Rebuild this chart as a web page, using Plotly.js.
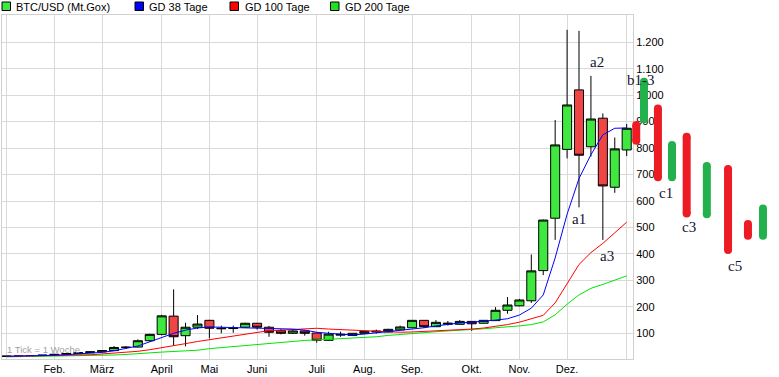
<!DOCTYPE html>
<html>
<head>
<meta charset="utf-8">
<script src="https://cdn.plot.ly/plotly-3.0.1.min.js"></script>
<style>
html,body{margin:0;padding:0;background:#fff;}
#chart{width:779px;height:377px;}
</style>
</head>
<body>
<div id="chart"></div>
<script>
// ---- data (weekly candles, 2013) ----
const weekNo = [0,1,2,3,4,5,6,7,8,9,10,11,12,13,14,15,16,17,18,19,20,21,22,23,24,25,26,27,28,29,30,31,32,33,34,35,36,37,38,39,40,41,42,43,44,45,46,47,48,49,50,51,52];
const openP  = [13.3,13.5,14.2,15.8,17.5,20.4,23.5,27,30,34.5,46.5,48,72,96,165,91,123,149,117,118,123,138,123,110,100,109,101,73.5,93,92,100,105,105,113,121,149,125,134,134,145,138,148,187,204,223,337,535,795,1020,805,913,652,793];
const highP  = [13.9,14.4,16,18,21,24.5,28,31,35,52,52,77,98,170,266,140,169,151,129,129,140,139,128,116,115,110,104,106,106,101,109,114,117,129,150,150,150,146.5,150,146,150,199,237,230,398,530,906,1247,1243,1073,931,840,891];
const lowP   = [13.1,13.2,14,15.5,17,19.8,23,26.5,29.5,33.5,41,46,68,92,53,51,116,81,100,102,121,114,87,96,98,91,64.5,72,87,91,99,99,104,111,120,120,124,129,133,109,137,147,174,202,215,320,453,761,576,768,453,631,770];
const closeP = [13.5,14.2,15.8,17.5,20.4,23.5,27,30,34.5,46.5,47.5,72,96,166,87,123,135,119,119,120,138,123,104,100,109,100,73.5,97,96,100,107.5,108,115,124,149,125,141.5,138,145,136,149,187,207,226,336,528,812,963,773,910,657,797,875];

const gd38  = [13,13.5,14,15,17,19,22,25,28,34,42,52,68,84,100,112,120,124,123,122,121,121,119,118,116,112,104,100,96,94,97,102,105,110,115,121,128,134,139,142,145,150,155,169,195,245,385,550,685,775,850,875,876];
const gd100 = [13,13.5,14,14.5,15,16,17.5,19,22,25,28,32,38,45,52,61,69,76,83,88,95,102,110,112,114,117,119,116,114,112,109,106,104,104,105,107,108,111,113,116,120,126,133,142,155,168,215,290,360,405,440,480,520];
const gd200 = [11,11.5,12,12.5,13,13.5,14,15,16,18,20,22,26,29,31,34,36,42,46,50,54,58,62,66,70,73,75,77,79,81,83,87,92,96,99,103,106,109,111,113,117,121,124,128,133,143,170,210,245,270,285,300,317];

const monthTicks  = [0,4,8,13,17,21,26,30,34,39,43,47,52];
const monthLabels = ['','Feb.','März','April','Mai','Juni','Juli','Aug.','Sep.','Okt.','Nov.','Dez.',''];
const yTicks = [100,200,300,400,500,600,700,800,900,1000,1100,1200];

// hand-drawn projection bars (week units continuing the time axis)
const projX    = [52.80,53.45,54.62,55.80,57.03,58.72,60.50,62.17,63.43];
const projLow  = [828,909,690,690,553,550,415,469,469];
const projHigh = [887,1051,950,812,843,732,721,513,572];
const projUp   = [false,true,false,true,false,true,false,false,true];

const waveText = ['a1','a2','a3','b1-3','c1','c3','c5'];
const waveX    = [48.0,49.5,50.35,53.2,55.3,57.2,61.08];
const waveY    = [532,1127,393,1058,630,500,354];

const legendNames  = ['BTC/USD (Mt.Gox)','GD 38 Tage','GD 100 Tage','GD 200 Tage'];
const legendColors = ['#3ee83e','#0000ff','#ff0000','#22e022'];

// ---- styles ----
const UP = '#3ee83e', DOWN = '#f04545';
const PROJ_RED = '#ed1c24', PROJ_GREEN = '#22b14c';
const W = 779, H = 377, MT = 15, MB = 18;
const plotL = 2, plotR = 633;
const pxPerWeek = 11.923, x0px = 6.7;
const xMin = (plotL - x0px)/pxPerWeek, xMax = (plotR - x0px)/pxPerWeek;
const x2Min = (0 - x0px)/pxPerWeek, x2Max = (W - x0px)/pxPerWeek;
const yRange = [2.9, 1303];

const traces = [];
traces.push({
  type:'candlestick', x:weekNo, open:openP, high:highP, low:lowP, close:closeP,
  increasing:{fillcolor:UP, line:{color:'#000', width:1}},
  decreasing:{fillcolor:DOWN, line:{color:'#000', width:1}},
  whiskerwidth:0, showlegend:false, hoverinfo:'skip', xaxis:'x', yaxis:'y'
});
[[gd200,'#00e600'],[gd100,'#ff0000'],[gd38,'#0000ff']].forEach(([arr,c])=>{
  traces.push({type:'scatter', mode:'lines', x:weekNo, y:arr, line:{color:c, width:1},
    showlegend:false, hoverinfo:'skip', xaxis:'x', yaxis:'y'});
});
// projection bars, one trace per colour with gaps
[[true,PROJ_GREEN],[false,PROJ_RED]].forEach(([up,c])=>{
  const xs=[], ys=[];
  projX.forEach((px,i)=>{ if(projUp[i]===up){ xs.push(px,px,null); ys.push(projLow[i],projHigh[i],null);} });
  traces.push({type:'scatter', mode:'lines+markers', x:xs, y:ys, connectgaps:false,
    line:{color:c, width:8}, marker:{color:c, size:8, symbol:'circle'},
    showlegend:false, hoverinfo:'skip', xaxis:'x2', yaxis:'y2', cliponaxis:false});
});

const annotations = [];
waveText.forEach((t,i)=>annotations.push({xref:'x2', yref:'y2', x:waveX[i], y:waveY[i], text:t,
  showarrow:false, font:{family:'Liberation Serif, Times New Roman, serif', size:15, color:'#151530'}}));
annotations.push({xref:'paper', yref:'paper', x:5/W, y:(359-349)/(H-MT-MB), xanchor:'left', yanchor:'middle',
  text:'1 Tick = 1 Woche', showarrow:false, font:{size:9.5, color:'#a0a0a0'}});

const legIconX = [2,135,230,330.5];
const legTextX = [14,147,242.5,343];
const shapes = [];
const ph = H-MT-MB;
legendNames.forEach((n,i)=>{
  shapes.push({type:'rect', xref:'paper', yref:'paper', x0:legIconX[i]/W, x1:(legIconX[i]+8.5)/W,
    y0:(359-10.5)/ph, y1:(359-2)/ph, fillcolor:legendColors[i], line:{color:'#000', width:1}});
  annotations.push({xref:'paper', yref:'paper', x:legTextX[i]/W, y:(359-6.5)/ph, xanchor:'left', yanchor:'middle',
    text:n, showarrow:false, font:{size:11, color:'#000'}});
});

const layout = {
  width:W, height:H,
  margin:{l:0, r:0, t:MT, b:MB, pad:0},
  paper_bgcolor:'#fff', plot_bgcolor:'rgba(0,0,0,0)',
  font:{family:'Liberation Sans, Arial, sans-serif', size:11, color:'#000'},
  separators:',.',
  showlegend:false,
  boxgap:0.24, boxgroupgap:0,
  xaxis:{domain:[plotL/W, plotR/W], range:[xMin,xMax], anchor:'y',
    tickmode:'array', tickvals:monthTicks, ticktext:monthLabels,
    showgrid:true, gridcolor:'#d9d9d9', gridwidth:1, zeroline:false,
    showline:true, mirror:true, linecolor:'#d0d0d0', linewidth:1,
    ticks:'', rangeslider:{visible:false}, fixedrange:true, tickfont:{size:11}},
  yaxis:{domain:[0,1], range:yRange, anchor:'x', side:'right',
    tickmode:'array', tickvals:yTicks, tickformat:',d',
    showgrid:true, gridcolor:'#d9d9d9', gridwidth:1, zeroline:false,
    showline:true, mirror:true, linecolor:'#d0d0d0', linewidth:1,
    ticks:'', fixedrange:true, tickfont:{size:11}},
  xaxis2:{domain:[0,1], range:[x2Min,x2Max], anchor:'y2', visible:false, showgrid:false, zeroline:false, fixedrange:true},
  yaxis2:{domain:[0,1], range:yRange, anchor:'x2', visible:false, showgrid:false, zeroline:false, fixedrange:true},
  annotations:annotations,
  shapes:shapes
};

Plotly.newPlot('chart', traces, layout, {staticPlot:true, displayModeBar:false});
</script>
</body>
</html>
